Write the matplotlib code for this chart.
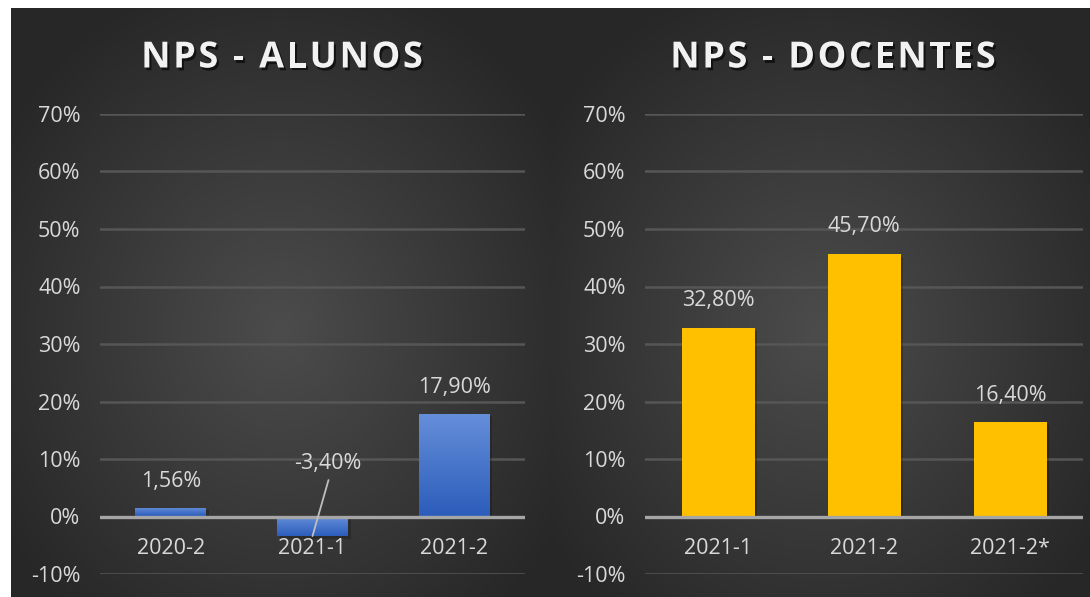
import numpy as np
import matplotlib
matplotlib.use("Agg")
import matplotlib.pyplot as plt
import matplotlib.patheffects as pe

# ---- data ----
alunos_cats = ["2020-2", "2021-1", "2021-2"]
alunos_vals = [1.56, -3.40, 17.90]
docentes_cats = ["2021-1", "2021-2", "2021-2*"]
docentes_vals = [32.80, 45.70, 16.40]
yticks = [-10, 0, 10, 20, 30, 40, 50, 60, 70]
titles = ["NPS - ALUNOS", "NPS - DOCENTES"]

W, H = 1090, 597
fig = plt.figure(figsize=(W / 100, H / 100), dpi=100, facecolor="white")
renderer = fig.canvas.get_renderer()

# ---- background: two radial gradients on white border ----
bg = np.ones((H, W, 3))
yy, xx = np.mgrid[0:H, 0:W]
c_center = 0x4c / 255
c_edge = 0x27 / 255
for (x0, x1) in [(11, 551), (551, W)]:
    cx = (x0 + x1) / 2
    cy = 330
    rx = (x1 - x0) * 0.62
    ry = H * 0.62
    d = np.sqrt(((xx - cx) / rx) ** 2 + ((yy - cy) / ry) ** 2)
    d = np.clip(d, 0, 1)
    val = c_center + (c_edge - c_center) * d
    mask = (xx >= x0) & (xx < x1) & (yy >= 8)
    for k in range(3):
        bg[..., k][mask] = val[mask]
bgax = fig.add_axes([0, 0, 1, 1], zorder=0)
bgax.imshow(bg, aspect="auto", extent=(0, W, H, 0), interpolation="bilinear")
bgax.set_axis_off()

label_color = "#d9d9d9"
font = "Open Sans"
FS = 15.5


def fmt(v):
    return f"{v:.2f}".replace(".", ",") + "%"


def spaced_title(text, cx, cy, spacing):
    kw = dict(color="#f2f2f2", fontsize=26, fontweight="bold", family=font, va="center", ha="left",
              path_effects=[pe.withSimplePatchShadow(offset=(1.5, -2), alpha=0.6, shadow_rgbFace="black")])
    widths = []
    for ch in text:
        if ch == " ":
            t = fig.text(0, 0, "a a", **kw)
            w_full = t.get_window_extent(renderer).width
            t.remove()
            t = fig.text(0, 0, "aa", **kw)
            w2 = t.get_window_extent(renderer).width
            t.remove()
            widths.append(w_full - w2)
        else:
            t = fig.text(0, 0, ch, **kw)
            widths.append(t.get_window_extent(renderer).width)
            t.remove()
    total = sum(widths) + spacing * (len(text) - 1)
    x = cx - total / 2
    for ch, w in zip(text, widths):
        if ch != " ":
            fig.text(x / W, 1 - cy / H, ch, **kw)
        x += w + spacing


def make_panel(left_px, right_px, cats, vals, color, gradient, title, title_x):
    ax = fig.add_axes([left_px / W, 1 - 574 / H, (right_px - left_px) / W, (574 - 114) / H], zorder=1)
    ax.set_facecolor("none")
    ax.set_xlim(-0.5, len(cats) - 0.5)
    ax.set_ylim(-10, 70)
    for s in ax.spines.values():
        s.set_visible(False)
    ax.set_xticks([])
    ax.set_yticks(yticks)
    ax.set_yticklabels([f"{t}%" for t in yticks], color=label_color, fontsize=FS, family=font)
    ax.tick_params(axis="y", length=0, pad=14)
    for t in yticks:
        if t == 0:
            continue
        ax.axhline(t, color="#565656", lw=1.8, zorder=1)
    x = np.arange(len(cats))
    bars = ax.bar(x, vals, width=0.5, color=color, zorder=2,
                  path_effects=[pe.SimplePatchShadow(offset=(2, -2), alpha=0.2, shadow_rgbFace="black"), pe.Normal()])
    if gradient is not None:
        top_c, bot_c = np.array(gradient[0]), np.array(gradient[1])
        g = np.linspace(0, 1, 100)[:, None, None]
        img = top_c[None, None, :] * (1 - g) + bot_c[None, None, :] * g
        for b, v in zip(bars, vals):
            bx = b.get_x()
            bw = b.get_width()
            top = max(v, 0)
            bot = min(v, 0)
            im = ax.imshow(img, extent=(bx, bx + bw, bot, top), aspect="auto", zorder=2.5,
                           interpolation="bilinear")
            im.set_clip_path(b)
    ax.axhline(0, color="#a6a6a6", lw=2.4, zorder=3)
    for i, c in enumerate(cats):
        ax.annotate(c, (i, 0), xytext=(0, -32), textcoords="offset pixels", ha="center", va="center",
                    color=label_color, fontsize=FS, family=font)
    spaced_title(title, title_x, 58.5, 2.6)
    return ax, bars


axL, barsL = make_panel(100, 525, alunos_cats, alunos_vals, "#4472c4",
                        ((0x66 / 255, 0x8f / 255, 0xda / 255), (0x2c / 255, 0x5d / 255, 0xbb / 255)),
                        titles[0], 282)
axR, barsR = make_panel(645, 1083, docentes_cats, docentes_vals, "#ffc000", None, titles[1], 833)

# data labels
for i, v in enumerate(alunos_vals):
    if v >= 0:
        axL.annotate(fmt(v), (i, v), xytext=(0, 26), textcoords="offset pixels", ha="center", va="center",
                     color=label_color, fontsize=FS, family=font)
    else:
        axL.annotate(fmt(v), (i, v), xytext=(15, 73), textcoords="offset pixels", ha="center", va="center",
                     color=label_color, fontsize=FS, family=font, zorder=5)
        axL.annotate("", (i, v), xytext=(16, 56), textcoords="offset pixels",
                     arrowprops=dict(arrowstyle="-", color="#bfbfbf", lw=1.3, shrinkA=0, shrinkB=0), zorder=5)
for i, v in enumerate(docentes_vals):
    axR.annotate(fmt(v), (i, v), xytext=(0, 27), textcoords="offset pixels", ha="center", va="center",
                 color=label_color, fontsize=FS, family=font)

fig.savefig("out.png", dpi=100, facecolor="white")
